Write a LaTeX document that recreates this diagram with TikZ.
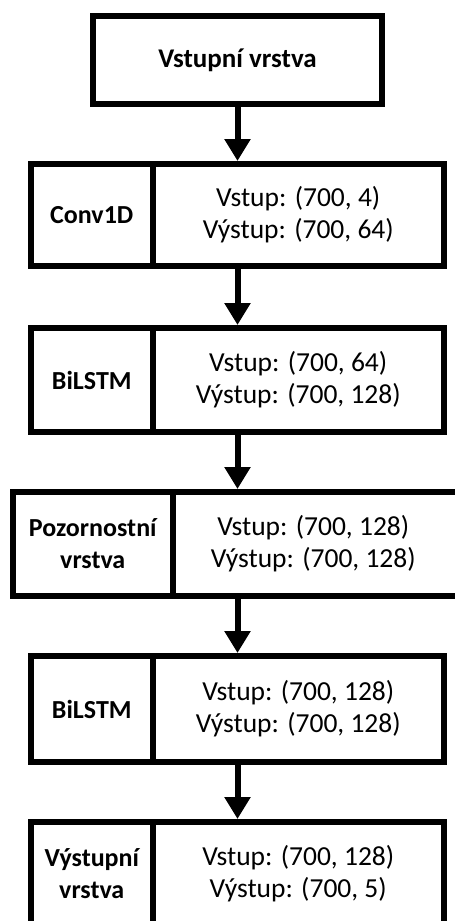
\documentclass[tikz,border=0pt]{standalone}
\usepackage{fontspec}
\setmainfont{Carlito}
\usetikzlibrary{arrows.meta}
\tikzset{
  box/.style={draw, line width=6pt, rectangle, inner sep=0pt, align=center, minimum height=104pt},
  lbl/.style={box, font=\bfseries\fontsize{26}{32}\selectfont},
  info/.style={box, font=\fontsize{27.5}{32}\selectfont},
  arr/.style={line width=6pt, -{Triangle[width=25pt,length=22pt]}},
}
\begin{document}
\begin{tikzpicture}[x=1pt,y=-1pt]
\useasboundingbox (0,0) rectangle (455,921);
\clip (0,0) rectangle (455,921);
\node[lbl, minimum width=289pt, minimum height=88pt, font=\bfseries\fontsize{27}{32}\selectfont] (inp) at (237.5,60) {Vstupní vrstva};
% Conv1D
\node[lbl, minimum width=121.5pt, minimum height=102pt] (c1l) at (91.75,215) {Conv1D};
\node[info, minimum width=291.5pt, minimum height=102pt] (c1r) at (298.25,215) {Vstup: (700, 4)\\Výstup: (700, 64)};
% BiLSTM 1
\node[lbl, minimum width=121.5pt] (b1l) at (91.75,380) {BiLSTM};
\node[info, minimum width=291.5pt] (b1r) at (298.25,380) {Vstup: (700, 64)\\Výstup: (700, 128)};
% Attention
\node[lbl, minimum width=159.5pt] (atl) at (92.75,544) {Pozornostní\\vrstva};
\node[info, minimum width=297.5pt] (atr) at (321.25,544) {\hspace*{-16pt}Vstup: (700, 128)\\\hspace*{-16pt}Výstup: (700, 128)};
% BiLSTM 2
\node[lbl, minimum width=121.5pt, minimum height=106pt] (b2l) at (91.75,709) {BiLSTM};
\node[info, minimum width=291.5pt, minimum height=106pt] (b2r) at (298.25,709) {Vstup: (700, 128)\\Výstup: (700, 128)};
% Output
\node[lbl, minimum width=121.5pt] (outl) at (91.75,874) {Výstupní\\vrstva};
\node[info, minimum width=291.5pt] (outr) at (298.25,874) {Vstup: (700, 128)\\Výstup: (700, 5)};
% arrows
\draw[arr] (inp.south) -- (inp.south |- c1r.north);
\draw[arr] (inp.south |- c1r.south) -- (inp.south |- b1r.north);
\draw[arr] (inp.south |- b1r.south) -- (inp.south |- atr.north);
\draw[arr] (inp.south |- atr.south) -- (inp.south |- b2r.north);
\draw[arr] (inp.south |- b2r.south) -- (inp.south |- outr.north);
\end{tikzpicture}
\end{document}
